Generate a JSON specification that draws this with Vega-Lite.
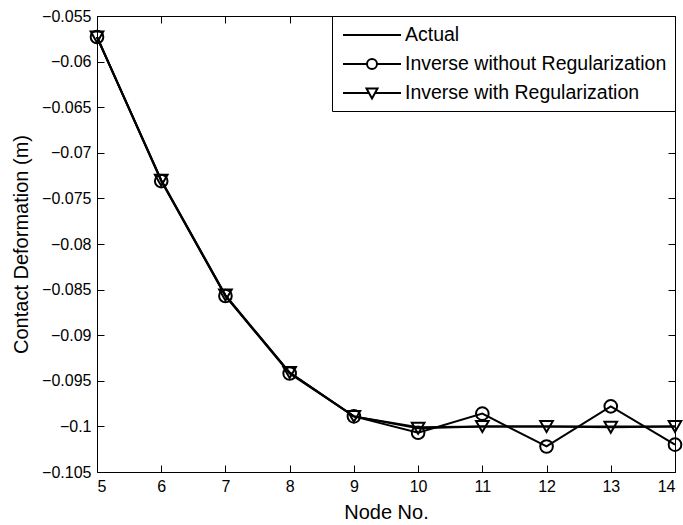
{
  "$schema": "https://vega.github.io/schema/vega-lite/v6.json",
  "width": 578,
  "height": 456,
  "autosize": "none",
  "padding": {"left": 97, "top": 16, "right": 8, "bottom": 53},
  "background": "white",
  "config": {
    "view": {"stroke": "black", "strokeWidth": 1},
    "font": "Liberation Sans",
    "axis": {
      "grid": false,
      "domainColor": "black",
      "tickColor": "black",
      "labelColor": "black",
      "titleColor": "black",
      "labelFont": "Liberation Sans",
      "titleFont": "Liberation Sans",
      "titleFontWeight": "normal",
      "labelFontSize": 16,
      "titleFontSize": 20
    }
  },
  "data": {
    "values": [
      {"node": 5, "series": "Actual", "value": -0.0573},
      {"node": 6, "series": "Actual", "value": -0.0730},
      {"node": 7, "series": "Actual", "value": -0.0857},
      {"node": 8, "series": "Actual", "value": -0.0941},
      {"node": 9, "series": "Actual", "value": -0.0989},
      {"node": 10, "series": "Actual", "value": -0.1001},
      {"node": 11, "series": "Actual", "value": -0.1000},
      {"node": 12, "series": "Actual", "value": -0.1000},
      {"node": 13, "series": "Actual", "value": -0.1000},
      {"node": 14, "series": "Actual", "value": -0.1000},
      {"node": 5, "series": "Inverse without Regularization", "value": -0.0573},
      {"node": 6, "series": "Inverse without Regularization", "value": -0.0731},
      {"node": 7, "series": "Inverse without Regularization", "value": -0.0857},
      {"node": 8, "series": "Inverse without Regularization", "value": -0.0942},
      {"node": 9, "series": "Inverse without Regularization", "value": -0.0989},
      {"node": 10, "series": "Inverse without Regularization", "value": -0.1007},
      {"node": 11, "series": "Inverse without Regularization", "value": -0.0986},
      {"node": 12, "series": "Inverse without Regularization", "value": -0.1022},
      {"node": 13, "series": "Inverse without Regularization", "value": -0.0978},
      {"node": 14, "series": "Inverse without Regularization", "value": -0.1020},
      {"node": 5, "series": "Inverse with Regularization", "value": -0.0573},
      {"node": 6, "series": "Inverse with Regularization", "value": -0.0730},
      {"node": 7, "series": "Inverse with Regularization", "value": -0.0856},
      {"node": 8, "series": "Inverse with Regularization", "value": -0.0941},
      {"node": 9, "series": "Inverse with Regularization", "value": -0.0989},
      {"node": 10, "series": "Inverse with Regularization", "value": -0.1002},
      {"node": 11, "series": "Inverse with Regularization", "value": -0.1000},
      {"node": 12, "series": "Inverse with Regularization", "value": -0.1000},
      {"node": 13, "series": "Inverse with Regularization", "value": -0.1001},
      {"node": 14, "series": "Inverse with Regularization", "value": -0.1000}
    ]
  },
  "resolve": {"axis": {"x": "independent", "y": "independent"}},
  "layer": [
    {
      "mark": {"type": "line", "strokeWidth": 2},
      "encoding": {
        "x": {
          "field": "node", "type": "quantitative",
          "scale": {"domain": [5, 14], "nice": false, "zero": false},
          "axis": {"orient": "bottom", "title": "Node No.", "values": [5,6,7,8,9,10,11,12,13,14], "tickSize": -7, "labelPadding": 13, "titlePadding": 8, "domain": false}
        },
        "y": {
          "field": "value", "type": "quantitative",
          "scale": {"domain": [-0.105, -0.055], "nice": false, "zero": false},
          "axis": {"orient": "left", "title": "Contact Deformation (m)", "values": [-0.105,-0.1,-0.095,-0.09,-0.085,-0.08,-0.075,-0.07,-0.065,-0.06,-0.055], "format": ".3~g", "tickSize": -7, "labelPadding": 13, "titlePadding": 10, "domain": false}
        },
        "color": {
          "field": "series", "type": "nominal",
          "scale": {"domain": ["Actual", "Inverse without Regularization", "Inverse with Regularization"], "range": ["black", "black", "black"]},
          "legend": {
            "title": null,
            "orient": "top-right",
            "offset": 0,
            "fillColor": "white",
            "strokeColor": "black",
            "padding": 8,
            "rowPadding": 8,
            "labelFont": "Liberation Sans",
            "labelFontSize": 19.5,
            "labelColor": "black",
            "labelLimit": 400,
            "labelOffset": 43,
            "symbolSize": 400,
            "symbolStrokeWidth": 2,
            "symbolStrokeColor": "black",
            "symbolFillColor": "transparent",
            "encode": {
              "symbols": {
                "update": {
                  "shape": {"signal": "datum.value === 'Actual' ? 'M-0.8,0H5' : (datum.value === 'Inverse without Regularization' ? 'M-0.8,0H1.6M2.6,0H5M1.6,0A0.5,0.5 0 1,1 2.6,0A0.5,0.5 0 1,1 1.6,0Z' : 'M-0.8,0H1.85M2.35,0H5M1.55,-0.45L2.65,-0.45L2.1,0.55Z')"},
                  "fill": {"value": "transparent"},
                  "stroke": {"value": "black"},
                  "strokeWidth": {"value": 2}
                }
              }
            }
          }
        }
      }
    },
    {
      "transform": [{"filter": "datum.series !== 'Actual'"}],
      "mark": {"type": "point", "filled": false, "size": 160, "strokeWidth": 2, "color": "black", "opacity": 1},
      "encoding": {
        "x": {
          "field": "node", "type": "quantitative",
          "axis": {"orient": "top", "title": null, "labels": false, "values": [5,6,7,8,9,10,11,12,13,14], "tickSize": -7, "domain": false}
        },
        "y": {
          "field": "value", "type": "quantitative",
          "axis": {"orient": "right", "title": null, "labels": false, "values": [-0.105,-0.1,-0.095,-0.09,-0.085,-0.08,-0.075,-0.07,-0.065,-0.06,-0.055], "tickSize": -7, "domain": false}
        },
        "shape": {
          "field": "series", "type": "nominal",
          "scale": {"domain": ["Inverse without Regularization", "Inverse with Regularization"], "range": ["circle", "triangle-down"]},
          "legend": null
        }
      }
    }
  ]
}
